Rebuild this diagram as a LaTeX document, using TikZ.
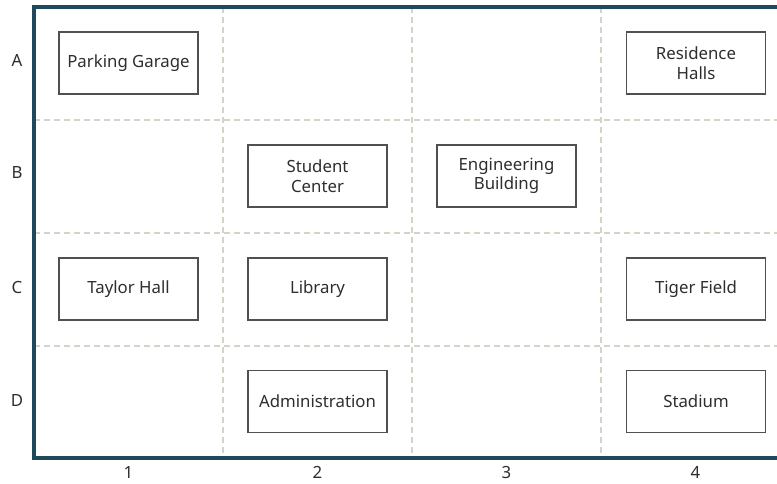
\documentclass[tikz,border=0pt]{standalone}
\usepackage{fontspec}
\setmainfont{Noto Sans}
\usepackage{tikz}
\definecolor{frameblue}{HTML}{1F4A5C}
\definecolor{gridgray}{HTML}{D0D5C8}
\definecolor{boxgray}{HTML}{505050}
\definecolor{txtgray}{HTML}{2E2E2E}

\begin{document}
\begin{tikzpicture}[x=0.75pt,y=-0.75pt,
  bldg/.style={draw=boxgray,line width=1.1pt,minimum width=104pt,
    minimum height=46.5pt,inner sep=0pt,align=center,text=txtgray,
    font=\fontsize{12.6}{14.6}\selectfont},
  axislabel/.style={text=txtgray,font=\fontsize{12.6}{14.6}\selectfont},
  gridline/.style={gridgray,line width=1pt,dash pattern=on 4.5pt off 3pt}]
\useasboundingbox (0,0) rectangle (777,483);
% dashed grid
\foreach \x in {223,412,601}
  \draw[gridline] (\x,7) -- (\x,458);
\foreach \y in {120,233,346}
  \draw[gridline] (34,\y) -- (777,\y);
% frame, open to the right
\draw[frameblue,line width=2.3pt] (777,7) -- (34,7) -- (34,458) -- (777,458);
% row and column labels
\foreach \r/\y in {A/60,B/172,C/287,D/400}
  \node[axislabel] (row\r) at (17,\y) {\r};
\foreach \c/\x in {1/128.5,2/317.5,3/506.5,4/695.5}
  \node[axislabel] (col\c) at (\x,472) {\c};
% buildings
\foreach \name/\x/\y/\txt in {%
  garage/128.5/63/Parking Garage,
  halls/696/63/Residence\\Halls,
  center/317.5/176/Student\\Center,
  engineering/506.5/176/Engineering\\Building,
  taylor/128.5/289/Taylor Hall,
  library/317.5/289/Library,
  field/696/289/Tiger Field,
  admin/317.5/401.5/Administration,
  stadium/696/401.5/Stadium}
  \node[bldg] (\name) at (\x,\y) {\txt};
\end{tikzpicture}
\end{document}
